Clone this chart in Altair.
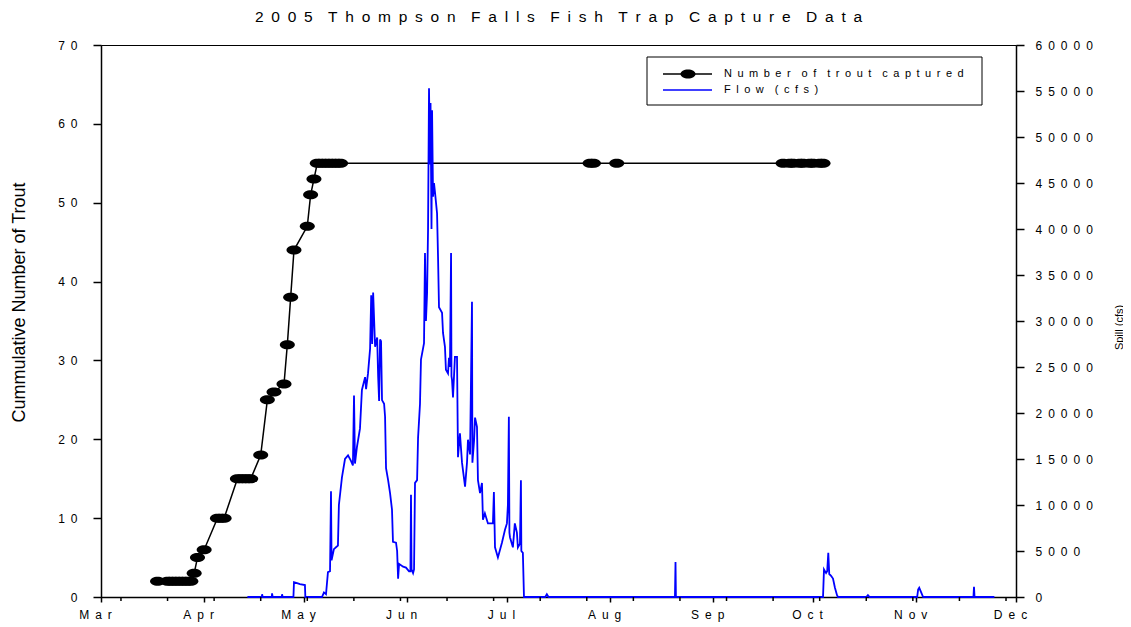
import altair as alt
import pandas as pd

FONT = "Liberation Sans"
EN = "\u2002"

title_text = "2005 Thompson Falls Fish Trap Capture Data"
left_title = "Cummulative Number of Trout"
right_title = "Spill (cfs)"
series_names = ["Number of trout captured", "Flow (cfs)"]

trout_dates = [
    "2005-03-18", "2005-03-21", "2005-03-22", "2005-03-23", "2005-03-24",
    "2005-03-25", "2005-03-26", "2005-03-27", "2005-03-28", "2005-03-29",
    "2005-03-30", "2005-04-01", "2005-04-05", "2005-04-06", "2005-04-07",
    "2005-04-11", "2005-04-12", "2005-04-13", "2005-04-14", "2005-04-15",
    "2005-04-18", "2005-04-20", "2005-04-22", "2005-04-25", "2005-04-26",
    "2005-04-27", "2005-04-28", "2005-05-02", "2005-05-03", "2005-05-04",
    "2005-05-05", "2005-05-06", "2005-05-07", "2005-05-08", "2005-05-09",
    "2005-05-10", "2005-05-11", "2005-05-12", "2005-07-26", "2005-07-27",
    "2005-08-03", "2005-09-22", "2005-09-24", "2005-09-25", "2005-09-27",
    "2005-09-28", "2005-09-30", "2005-10-01", "2005-10-03", "2005-10-04",
]
trout_counts = [
    2, 2, 2, 2, 2, 2, 2, 2, 2, 3,
    5, 6, 10, 10, 10, 15, 15, 15, 15, 15,
    18, 25, 26, 27, 32, 38, 44, 47, 51, 53,
    55, 55, 55, 55, 55, 55, 55, 55, 55, 55,
    55, 55, 55, 55, 55, 55, 55, 55, 55, 55,
]

flow_times = [
    "2005-04-14T00:00", "2005-04-18T08:00", "2005-04-18T10:00", "2005-04-18T14:00",
    "2005-04-21T08:00", "2005-04-21T10:00", "2005-04-21T14:00",
    "2005-04-24T08:00", "2005-04-24T10:00", "2005-04-24T14:00",
    "2005-04-27T20:00", "2005-04-28T00:00", "2005-04-28T22:00", "2005-04-29T19:00",
    "2005-05-01T07:00", "2005-05-01T10:00",
    "2005-05-06T10:00", "2005-05-07T00:00", "2005-05-07T15:00", "2005-05-08T05:00",
    "2005-05-08T20:00", "2005-05-09T03:00", "2005-05-09T07:00", "2005-05-10T00:00",
    "2005-05-11T05:00", "2005-05-11T12:00", "2005-05-12T10:00", "2005-05-13T08:00",
    "2005-05-14T06:00", "2005-05-15T03:00", "2005-05-15T17:00", "2005-05-16T01:00",
    "2005-05-16T08:00", "2005-05-16T22:00", "2005-05-17T20:00", "2005-05-18T10:00",
    "2005-05-19T09:00", "2005-05-19T16:00", "2005-05-20T06:00", "2005-05-20T21:00",
    "2005-05-21T05:00", "2005-05-21T12:00", "2005-05-21T19:00", "2005-05-22T09:00",
    "2005-05-23T00:00", "2005-05-23T07:00", "2005-05-23T14:00", "2005-05-23T21:00",
    "2005-05-24T04:00", "2005-05-24T11:00", "2005-05-25T02:00", "2005-05-25T09:00",
    "2005-05-25T16:00", "2005-05-26T07:00", "2005-05-26T21:00", "2005-05-27T11:00",
    "2005-05-27T18:00", "2005-05-28T16:00", "2005-05-29T00:00", "2005-05-29T07:00",
    "2005-05-29T14:00", "2005-05-30T19:00", "2005-05-31T16:00", "2005-06-01T14:00",
    "2005-06-02T00:00", "2005-06-02T04:00", "2005-06-02T08:00", "2005-06-02T19:00",
    "2005-06-03T02:00", "2005-06-03T09:00", "2005-06-04T00:00", "2005-06-04T07:00",
    "2005-06-04T21:00", "2005-06-05T04:00", "2005-06-06T02:00", "2005-06-06T09:00",
    "2005-06-06T16:00", "2005-06-07T00:00", "2005-06-07T07:00", "2005-06-07T14:00",
    "2005-06-07T21:00", "2005-06-08T01:00", "2005-06-08T08:00", "2005-06-08T12:00",
    "2005-06-08T19:00", "2005-06-09T02:00", "2005-06-09T09:00", "2005-06-10T00:00",
    "2005-06-10T07:00", "2005-06-10T14:00", "2005-06-11T12:00", "2005-06-11T19:00",
    "2005-06-12T09:00", "2005-06-12T16:00", "2005-06-13T07:00", "2005-06-13T14:00",
    "2005-06-13T21:00", "2005-06-14T05:00", "2005-06-14T08:00", "2005-06-14T12:00",
    "2005-06-14T19:00", "2005-06-15T09:00", "2005-06-16T00:00", "2005-06-16T07:00",
    "2005-06-16T21:00", "2005-06-17T12:00", "2005-06-18T10:00", "2005-06-19T00:00",
    "2005-06-19T07:00", "2005-06-19T22:00", "2005-06-20T12:00", "2005-06-20T15:00",
    "2005-06-21T03:00", "2005-06-21T10:00", "2005-06-22T00:00", "2005-06-22T07:00",
    "2005-06-22T22:00", "2005-06-23T12:00", "2005-06-23T19:00", "2005-06-24T09:00",
    "2005-06-25T07:00", "2005-06-26T19:00", "2005-06-27T02:00", "2005-06-27T10:00",
    "2005-06-28T07:00", "2005-06-29T12:00", "2005-06-30T10:00", "2005-07-01T00:00",
    "2005-07-01T07:00", "2005-07-01T14:00", "2005-07-01T18:00", "2005-07-01T22:00",
    "2005-07-02T19:00", "2005-07-03T09:00", "2005-07-04T00:00", "2005-07-04T07:00",
    "2005-07-04T22:00", "2005-07-05T05:00", "2005-07-05T08:00", "2005-07-05T19:00",
    "2005-07-06T03:00",
    "2005-07-12T12:00", "2005-07-13T00:00", "2005-07-13T12:00",
    "2005-08-20T12:00", "2005-08-20T16:00", "2005-08-20T19:00",
    "2005-10-04T00:00", "2005-10-04T07:00", "2005-10-04T22:00", "2005-10-05T06:00",
    "2005-10-05T14:00", "2005-10-05T21:00", "2005-10-06T10:00", "2005-10-07T00:00",
    "2005-10-07T14:00", "2005-10-08T05:00", "2005-10-08T12:00",
    "2005-10-17T00:00", "2005-10-17T12:00", "2005-10-18T00:00",
    "2005-11-01T07:00", "2005-11-01T14:00", "2005-11-01T22:00", "2005-11-02T12:00",
    "2005-11-03T02:00",
    "2005-11-18T05:00", "2005-11-18T09:00", "2005-11-18T13:00",
    "2005-11-24T12:00",
]
flow_cfs = [
    0, 0, 300, 0,
    0, 400, 0,
    0, 300, 0,
    0, 1600, 1500, 1400,
    1300, 0,
    0, 500, 300, 2700,
    2800, 11500, 4000, 5200,
    5600, 10000, 13000, 15000,
    15400, 14800, 14300, 21900,
    14500, 16300, 18300, 22500,
    23900, 22600, 24300, 27000,
    32800, 27500, 33100, 27200,
    28200, 24000, 21300, 28000,
    27800, 21400, 21000, 19600,
    14000, 12700, 11300, 9500,
    6000, 5900, 5000, 2000,
    3600, 3300, 3200, 2800,
    2800, 11100, 3000, 2600,
    3000, 12400, 12700, 17300,
    21000, 25800, 27600, 37400,
    30000, 33000, 39900, 55300,
    47000, 53700, 40000, 52900,
    43500, 45000, 44000, 41700,
    37000, 31500, 30900, 28700,
    27200, 24700, 24300, 26000,
    25000, 37400, 24000, 23600,
    21700, 26100, 26100, 15200,
    17800, 14600, 12000, 14600,
    17100, 15500, 32100, 14600,
    17000, 19500, 18500, 12700,
    11300, 12400, 8400, 9100,
    8000, 8000, 11400, 5400,
    4300, 5900, 7300, 8000,
    10000, 19600, 7000, 6500,
    5400, 8000, 7000, 5400,
    5800, 12700, 5000, 4800,
    0,
    0, 300, 0,
    0, 3800, 0,
    0, 3000, 2600, 2800,
    4800, 2500, 2300, 2000,
    1000, 200, 0,
    0, 200, 0,
    0, 800, 1000, 500,
    0,
    0, 1100, 0,
    0,
]

month_ticks = [(2005, m, 1) for m in [3, 4, 5, 6, 7, 8, 9, 10, 11, 12]]
minor_tick_dates = [
    "2005-03-07", "2005-03-21", "2005-04-04", "2005-04-18", "2005-05-02",
    "2005-05-16", "2005-05-30", "2005-06-13", "2005-06-27", "2005-07-11",
    "2005-07-25", "2005-08-08", "2005-08-22", "2005-09-05", "2005-09-19",
    "2005-10-03", "2005-10-17", "2005-10-31", "2005-11-14", "2005-11-28",
]
left_ticks = [0, 10, 20, 30, 40, 50, 60, 70]
right_ticks = [0, 5000, 10000, 15000, 20000, 25000, 30000, 35000, 40000,
               45000, 50000, 55000, 60000]


def spaced(s):
    return (EN + EN).join(EN.join(w) for w in s.split(" "))


label_expr = "join(split(datum.label, ''), '" + EN + "')"

ELLIPSE = ("M -1 0 C -1 -0.3314 -0.5523 -0.6 0 -0.6 C 0.5523 -0.6 1 -0.3314 1 0 "
           "C 1 0.3314 0.5523 0.6 0 0.6 C -0.5523 0.6 -1 0.3314 -1 0 Z")

trout_df = pd.DataFrame({"date": [d + "T00:00" for d in trout_dates], "count": trout_counts})
flow_df = pd.DataFrame({"date": flow_times, "cfs": flow_cfs})
minor_df = pd.DataFrame({"date": [d + "T00:00" for d in minor_tick_dates]})

W, H = 915, 552

x_scale = alt.Scale(
    domain=[alt.DateTime(year=2005, month=3, date=1), alt.DateTime(year=2005, month=12, date=1)],
    nice=False,
)
x_axis = alt.Axis(
    values=[alt.DateTime(year=y, month=m, date=d) for (y, m, d) in month_ticks],
    format="%b", labelExpr=label_expr, title=None, grid=False, labelFlush=False,
    tickSize=5, tickWidth=1.5, tickColor="black",
    domainColor="black", domainWidth=1.5, labelOffset=-6,
    labelPadding=7, labelFont=FONT, labelFontSize=12, labelColor="black",
)
x_enc = alt.X("date:T", scale=x_scale, axis=x_axis)

y_left = alt.Y(
    "count:Q",
    scale=alt.Scale(domain=[0, 70], nice=False),
    axis=alt.Axis(
        orient="left", values=left_ticks, format="d", labelExpr=label_expr, grid=False,
        tickSize=8, tickWidth=1.5, tickColor="black", domainColor="black", domainWidth=1.5,
        labelPadding=16, labelFont=FONT, labelFontSize=12, labelColor="black",
        title=left_title, titleFont=FONT, titleFontSize=18, titleFontWeight="normal",
        titleColor="black", titleX=-82, titleY=257, titleAngle=270,
        titleAlign="center", titleBaseline="middle",
    ),
)
y_right = alt.Y(
    "cfs:Q",
    scale=alt.Scale(domain=[0, 60000], nice=False),
    axis=alt.Axis(
        orient="right", values=right_ticks, format="d", labelExpr=label_expr, grid=False,
        tickSize=8, tickWidth=1.5, tickColor="black", domainColor="black", domainWidth=1.5,
        labelPadding=11, labelAlign="left", labelFont=FONT, labelFontSize=12, labelColor="black",
        title=right_title, titleFont=FONT, titleFontSize=11, titleFontWeight="normal",
        titleColor="black", titleX=103, titleY=282, titleAngle=270,
        titleAlign="center", titleBaseline="middle",
    ),
)

trout_base = alt.Chart(trout_df).encode(x=x_enc, y=y_left)
trout_line = trout_base.mark_line(color="black", strokeWidth=1.5)
trout_pts = trout_base.mark_point(shape=ELLIPSE, filled=True, size=225, color="black",
                                  opacity=1, strokeWidth=0)
trout_layer = alt.layer(trout_line, trout_pts)

flow_line = alt.Chart(flow_df).mark_line(color="#0000ff", strokeWidth=1.8).encode(x=x_enc, y=y_right)

minor_ticks = alt.Chart(minor_df).mark_rule(color="black", strokeWidth=1.5).encode(
    x=x_enc, y=alt.value(H), y2=alt.value(H + 4)
)

one = pd.DataFrame({"k": [0]})
leg_box = alt.Chart(one).mark_rect(fill="white", stroke="black", strokeWidth=1).encode(
    x=alt.value(546), x2=alt.value(881), y=alt.value(12), y2=alt.value(60)
)
leg_line1 = alt.Chart(one).mark_rule(color="black", strokeWidth=1.5).encode(
    x=alt.value(562), x2=alt.value(611), y=alt.value(29)
)
leg_pt1 = alt.Chart(one).mark_point(shape=ELLIPSE, filled=True, size=225, color="black",
                                    opacity=1, strokeWidth=0).encode(
    x=alt.value(587), y=alt.value(29)
)
leg_line2 = alt.Chart(one).mark_rule(color="#0000ff", strokeWidth=1.5).encode(
    x=alt.value(562), x2=alt.value(611), y=alt.value(45)
)
leg_txt1 = alt.Chart(pd.DataFrame({"t": [spaced(series_names[0])]})).mark_text(
    align="left", baseline="middle", font=FONT, fontSize=11, color="black"
).encode(x=alt.value(623), y=alt.value(29), text="t:N")
leg_txt2 = alt.Chart(pd.DataFrame({"t": [spaced(series_names[1])]})).mark_text(
    align="left", baseline="middle", font=FONT, fontSize=11, color="black"
).encode(x=alt.value(623), y=alt.value(45), text="t:N")

title_mark = alt.Chart(pd.DataFrame({"t": [spaced(title_text)]})).mark_text(
    align="center", baseline="alphabetic", font=FONT, fontSize=15.5, color="black"
).encode(x=alt.value(W / 2), y=alt.value(-23), text="t:N")

chart = alt.layer(
    trout_layer, flow_line, minor_ticks,
    leg_box, leg_line1, leg_pt1, leg_line2, leg_txt1, leg_txt2, title_mark,
).resolve_scale(y="independent").properties(
    width=W, height=H,
    autosize=alt.AutoSizeParams(type="none"),
    padding={"left": 93, "top": 37, "right": 107, "bottom": 30},
).configure_view(stroke="black", strokeWidth=1)

chart.save("out.html", embed_options={"renderer": "svg", "actions": False})
